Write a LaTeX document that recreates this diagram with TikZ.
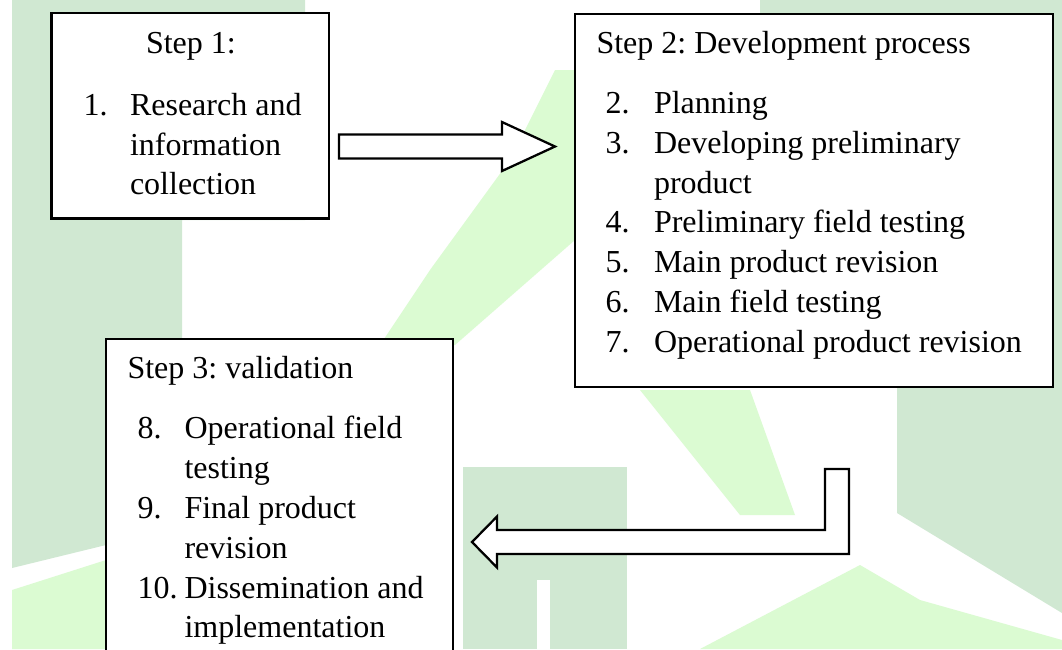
\documentclass[tikz,border=0pt]{standalone}
\usepackage{fontspec}
\setmainfont{Liberation Serif}
\frenchspacing
\usetikzlibrary{fit}
\definecolor{sage}{RGB}{208,232,210}
\definecolor{leaf}{RGB}{219,251,210}
\begin{document}
\begin{tikzpicture}[x=0.375pt, y=-0.375pt,
  stepbox/.style={draw=black, line width=0.85pt, fill=white, inner sep=0pt},
  blockarrow/.style={draw=black, line width=0.85pt, fill=white, line join=miter},
  txt/.style={inner sep=0pt, anchor=base west, font=\fontsize{12}{15}\selectfont}]

% page and faint watermark behind the diagram
\useasboundingbox (0,0) rectangle (1062,649);
\clip (0,0) rectangle (1062,649);
\fill[white] (0,0) rectangle (1062,649);
\fill[sage] (12,0) -- (305,0) -- (305,220) -- (182,220) -- (182,545) -- (106,545) -- (12,568) -- cycle;
\fill[sage] (760,0) -- (1062,0) -- (1062,613) -- (897,513) -- (897,300) -- (760,300) -- cycle;
\fill[sage] (463,467) rectangle (627,649);
\fill[white] (537,580) rectangle (550,649);
\fill[leaf] (555,70) -- (575,70) -- (575,240) -- (455,345) -- (380,345) -- (430,270) -- (510,160) -- cycle;
\fill[leaf] (12,590) -- (106,560) -- (106,649) -- (12,649) -- cycle;
\fill[leaf] (640,390) -- (750,390) -- (795,515) -- (740,515) -- cycle;
\fill[leaf] (700,649) -- (860,565) -- (920,600) -- (1062,640) -- (1062,649) -- cycle;

% the three step boxes
\node[stepbox, fit={(51.5,13) (329,218.5)}] (box1) {};
\node[stepbox, fit={(575,14) (1053,387)}] (box2) {};
\node[stepbox, fit={(106,339) (453,700)}] (box3) {};

% box 1 text
\node[txt] (s1) at (145.5,53) {Step 1:};
\node[txt] (n1) at (83,115) {1.};
\node[txt] (t1a) at (129.5,115) {Research and};
\node[txt] (t1b) at (129.5,155) {information};
\node[txt] (t1c) at (129.5,194) {collection};

% box 2 text
\node[txt] (s2) at (596,53) {Step 2: Development process};
\node[txt] (n2) at (605,113) {2.};
\node[txt] (t2) at (653.5,113) {Planning};
\node[txt] (n3) at (605,153) {3.};
\node[txt] (t3a) at (653.5,153) {Developing preliminary};
\node[txt] (t3b) at (653.5,193) {product};
\node[txt] (n4) at (605,232.5) {4.};
\node[txt] (t4) at (653.5,232.5) {Preliminary field testing};
\node[txt] (n5) at (605,272.5) {5.};
\node[txt] (t5) at (653.5,272.5) {Main product revision};
\node[txt] (n6) at (605,312.5) {6.};
\node[txt] (t6) at (653.5,312.5) {Main field testing};
\node[txt] (n7) at (605,352) {7.};
\node[txt] (t7) at (653.5,352) {Operational product revision};

% box 3 text
\node[txt] (s3) at (127,378) {Step 3: validation};
\node[txt] (n8) at (137,438) {8.};
\node[txt] (t8a) at (184,438) {Operational field};
\node[txt] (t8b) at (184,478) {testing};
\node[txt] (n9) at (137,518) {9.};
\node[txt] (t9a) at (184,518) {Final product};
\node[txt] (t9b) at (184,558) {revision};
\node[txt] (n10) at (137,598) {10.};
\node[txt] (t10a) at (184,598) {Dissemination and};
\node[txt] (t10b) at (184,637.5) {implementation};

% block arrow from step 1 towards step 2
\coordinate (a1s) at (339,146.5);
\coordinate (a1e) at (555,146.5);
\draw[blockarrow] (339,134.5) -- (502,134.5) -- (502,122) -- (a1e)
  -- (502,171) -- (502,158.5) -- (339,158.5) -- cycle;

% elbow block arrow from step 2 down and back towards step 3
\coordinate (a2s) at (837,469);
\coordinate (a2e) at (472,542);
\draw[blockarrow] (825,469) -- (849,469) -- (849,554) -- (497,554)
  -- (497,567.5) -- (a2e) -- (497,516.5) -- (497,530) -- (825,530) -- cycle;
\end{tikzpicture}
\end{document}
